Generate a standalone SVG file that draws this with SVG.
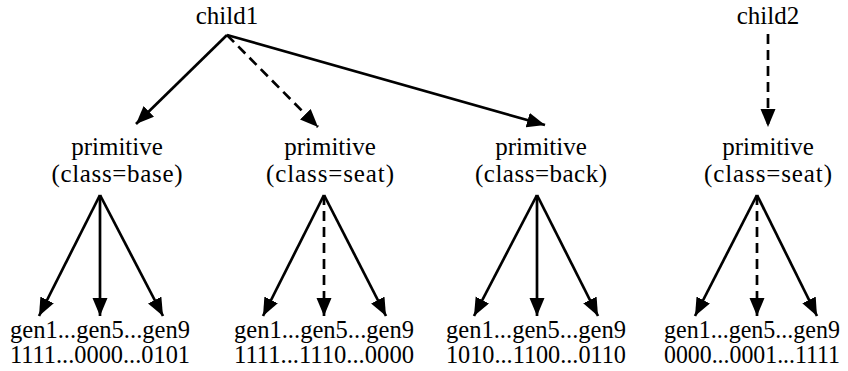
<svg xmlns="http://www.w3.org/2000/svg" width="848" height="371" viewBox="0 0 848 371">
<style>
.t text{font-size:25px;fill:#000;text-anchor:middle}
.e{stroke:#000;stroke-width:2.7;fill:none;marker-end:url(#ah)}
.d{stroke-dasharray:10 6}
</style>
<defs>
<marker id="ah" markerUnits="userSpaceOnUse" markerWidth="19" markerHeight="16" refX="18" refY="7.5" orient="auto">
<path d="M0,0 L18,7.5 L0,15 Z" fill="#000"/>
</marker>
</defs>
<rect width="848" height="371" fill="#fff"/>
<g class="t" font-family="'Liberation Serif', 'Times New Roman', Times, serif">
<g id="child1"><text x="227" y="24">child1</text></g>
<g id="child2"><text x="768" y="24">child2</text></g>
<g id="prim1"><text x="117" y="155">primitive</text><text x="117" y="182" textLength="131" lengthAdjust="spacing">(class=base)</text></g>
<g id="prim2"><text x="330" y="155">primitive</text><text x="330" y="182" textLength="128" lengthAdjust="spacing">(class=seat)</text></g>
<g id="prim3"><text x="541" y="155">primitive</text><text x="541" y="182" textLength="132" lengthAdjust="spacing">(class=back)</text></g>
<g id="prim4"><text x="768" y="155">primitive</text><text x="768" y="182" textLength="128" lengthAdjust="spacing">(class=seat)</text></g>
<g id="gen1"><text x="100" y="338" textLength="180" lengthAdjust="spacingAndGlyphs">gen1...gen5...gen9</text><text x="100" y="363" textLength="180" lengthAdjust="spacingAndGlyphs">1111...0000...0101</text></g>
<g id="gen2"><text x="324" y="338" textLength="180" lengthAdjust="spacingAndGlyphs">gen1...gen5...gen9</text><text x="324" y="363" textLength="180" lengthAdjust="spacingAndGlyphs">1111...1110...0000</text></g>
<g id="gen3"><text x="536" y="338" textLength="180" lengthAdjust="spacingAndGlyphs">gen1...gen5...gen9</text><text x="536" y="363" textLength="180" lengthAdjust="spacingAndGlyphs">1010...1100...0110</text></g>
<g id="gen4"><text x="752" y="338" textLength="176" lengthAdjust="spacingAndGlyphs">gen1...gen5...gen9</text><text x="752" y="363" textLength="176" lengthAdjust="spacingAndGlyphs">0000...0001...1111</text></g>
</g>
<g id="connectors">
<line class="e" x1="227" y1="35" x2="136" y2="124"/>
<line class="e d" x1="227" y1="35" x2="318" y2="127"/>
<line class="e" x1="227" y1="35" x2="545" y2="125"/>
<line class="e d" x1="768" y1="34" x2="768" y2="127"/>
<line class="e" x1="100" y1="195" x2="39" y2="316"/>
<line class="e" x1="100" y1="195" x2="100" y2="316"/>
<line class="e" x1="100" y1="195" x2="163" y2="316"/>
<line class="e" x1="324" y1="195" x2="263" y2="316"/>
<line class="e d" x1="324" y1="195" x2="324" y2="316"/>
<line class="e" x1="324" y1="195" x2="386" y2="316"/>
<line class="e" x1="537" y1="195" x2="474" y2="316"/>
<line class="e" x1="537" y1="195" x2="537" y2="316"/>
<line class="e" x1="537" y1="195" x2="598" y2="316"/>
<line class="e" x1="757" y1="195" x2="695" y2="316"/>
<line class="e d" x1="757" y1="195" x2="757" y2="316"/>
<line class="e" x1="757" y1="195" x2="817" y2="316"/>
</g>
</svg>
